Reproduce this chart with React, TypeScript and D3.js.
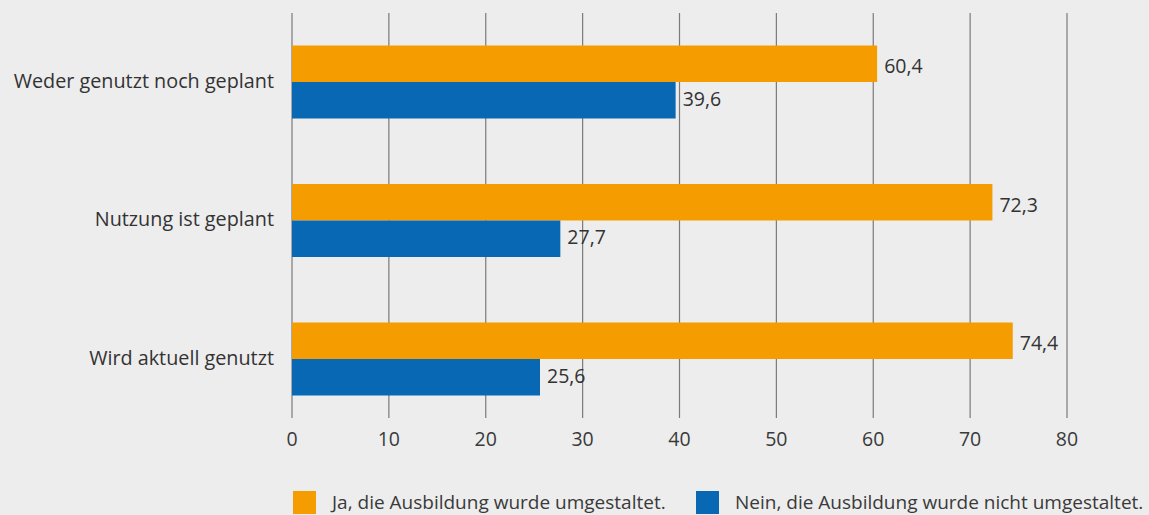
import React from "react";
import * as d3 from "d3";

const categories = ["Weder genutzt noch geplant", "Nutzung ist geplant", "Wird aktuell genutzt"];
const seriesNames = ["Ja, die Ausbildung wurde umgestaltet.", "Nein, die Ausbildung wurde nicht umgestaltet."];
const jaValues = [60.4, 72.3, 74.4];
const neinValues = [39.6, 27.7, 25.6];
const xTicks = [0, 10, 20, 30, 40, 50, 60, 70, 80];
const colors = ["#f59c00", "#0868b3"];

const W = 1149;
const H = 515;
const FONT = "'Open Sans', 'Noto Sans', sans-serif";

export default function App() {
  const x = d3.scaleLinear().domain([0, 80]).range([292, 1067]);
  const y = d3.scaleBand<string>().domain(categories).range([12.75, 428.25]).padding(0);
  const inner = d3.scaleBand<string>().domain(["ja", "nein"]).range([0, 73]).padding(0);
  const series = [jaValues, neinValues];
  const labelOffsets = [9.5, 5.7];
  const fmt = (v: number) => v.toFixed(1).replace(".", ",");
  const gridTop = 13;
  const gridBottom = 418;

  return (
    <svg width={W} height={H} style={{ position: "absolute", left: 0, top: 0, background: "#ededed" }} fontFamily={FONT}>
      <rect x={0} y={0} width={W} height={H} fill="#ededed" />
      {xTicks.map((t) => (
        <g key={t}>
          <line x1={x(t)} x2={x(t)} y1={gridTop} y2={gridBottom} stroke="#7a7a7a" strokeWidth={1.2} />
          <text x={x(t)} y={446} textAnchor="middle" fontSize={19.5} fill="#3a3a3a">{t}</text>
        </g>
      ))}
      {categories.map((c, i) => {
        const center = (y(c) as number) + y.bandwidth() / 2;
        const top = center - 36.5;
        return (
          <g key={c}>
            <text x={274} y={center + 5.5} textAnchor="end" fontSize={19.8} fill="#333">{c}</text>
            {series.map((s, j) => {
              const by = top + (inner(j === 0 ? "ja" : "nein") as number);
              return (
                <g key={j}>
                  <rect x={x(0)} y={by} width={x(s[i]) - x(0)} height={inner.bandwidth()} fill={colors[j]} />
                  <text x={x(s[i]) + 7} y={by + inner.bandwidth() / 2 + labelOffsets[j]} fontSize={19.5} fill="#333">{fmt(s[i])}</text>
                </g>
              );
            })}
          </g>
        );
      })}
      {seriesNames.map((n, j) => {
        const lx = j === 0 ? 293 : 696;
        return (
          <g key={n}>
            <rect x={lx} y={491} width={23} height={23} fill={colors[j]} />
            <text x={lx + 39} y={509} fontSize={19} fill="#3a3a3a">{n}</text>
          </g>
        );
      })}
    </svg>
  );
}
